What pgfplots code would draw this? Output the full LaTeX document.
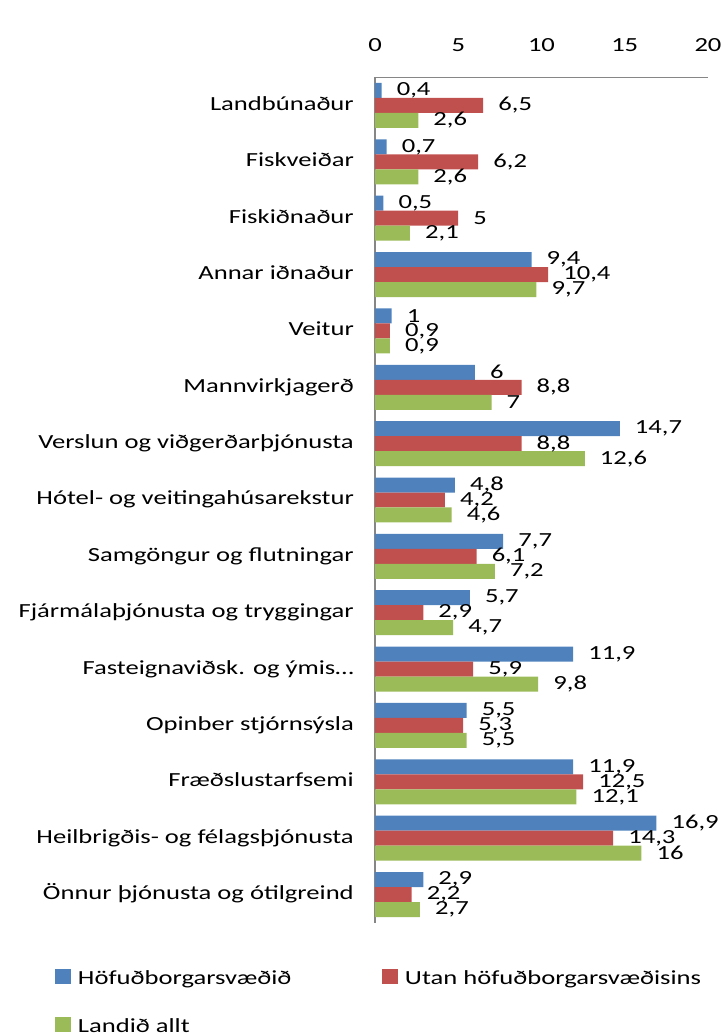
\documentclass[border=0pt]{standalone}
\usepackage{fontspec}
\setmainfont{Carlito}[FakeStretch=1.33]
\usepackage{pgfplots}
\pgfplotsset{compat=1.18}
\definecolor{cBlue}{RGB}{79,129,189}
\definecolor{cRed}{RGB}{192,80,77}
\definecolor{cGreen}{RGB}{155,187,89}
\definecolor{cAxis}{RGB}{134,134,134}

% y = 14 is the top category (Landbúnaður)
\pgfplotstableread{
y  hofud utan landid
14 0.4  6.5  2.6
13 0.7  6.2  2.6
12 0.5  5    2.1
11 9.4  10.4 9.7
10 1    0.9  0.9
9  6    8.8  7
8  14.7 8.8  12.6
7  4.8  4.2  4.6
6  7.7  6.1  7.2
5  5.7  2.9  4.7
4  11.9 5.9  9.8
3  5.5  5.3  5.5
2  11.9 12.5 12.1
1  16.9 14.3 16
0  2.9  2.2  2.7
}\data

\begin{document}
\begin{tikzpicture}[font=\fontsize{20}{24}\selectfont]
\useasboundingbox (-375pt,-111.3pt) rectangle (349pt,922.7pt);
\begin{axis}[
  at={(0pt,0pt)}, anchor=south west,
  width=333pt, height=845.4pt, scale only axis,
  xbar, bar width=0.266,
  xmin=0, xmax=20, ymin=-0.5, ymax=14.5,
  axis x line*=top, axis y line*=left,
  axis line style={cAxis, line width=1.2pt},
  xtick={0,5,10,15,20},
  ytick={0,...,14},
  yticklabels={Önnur þjónusta og ótilgreind, Heilbrigðis- og félagsþjónusta, Fræðslustarfsemi, Opinber stjórnsýsla, Fasteignaviðsk. og ýmis…, Fjármálaþjónusta og tryggingar, Samgöngur og flutningar, Hótel- og veitingahúsarekstur, Verslun og viðgerðarþjónusta, Mannvirkjagerð, Veitur, Annar iðnaður, Fiskiðnaður, Fiskveiðar, Landbúnaður},
  major tick length=0pt,
  /pgf/number format/.cd, use comma, assume math mode=true, /pgfplots/.cd,
  tick label style={font=\fontsize{20}{24}\selectfont, text=black},
  xticklabel style={anchor=base, inner sep=0pt, yshift=26pt},
  yticklabel style={anchor=base east, inner sep=0pt, xshift=-21pt, yshift=-5pt},
  nodes near coords, point meta=x,
  every node near coord/.append style={anchor=west, inner sep=0pt, xshift=15pt, font=\fontsize{20}{24}\selectfont, text=black},
  legend columns=2,
  legend cell align=left,
  legend style={draw=none, fill=none, inner sep=0pt, outer sep=0pt,
    at={(axis description cs:-0.961,-0.054)}, anchor=north west,
    column sep=5pt, row sep=29pt},
  legend image code/.code={\fill[#1, draw=none] (0pt,-6pt) rectangle (16pt,9pt);},
]
\addplot[fill=cBlue, draw=none, bar shift=0.266] table[x=hofud, y=y] {\data};
\addlegendentry{\makebox[297pt][l]{Höfuðborgarsvæðið}}
\addplot[fill=cRed, draw=none, bar shift=0] table[x=utan, y=y] {\data};
\addlegendentry{Utan höfuðborgarsvæðisins}
\addplot[fill=cGreen, draw=none, bar shift=-0.266] table[x=landid, y=y] {\data};
\addlegendentry{\makebox[297pt][l]{Landið allt}}
\end{axis}
\end{tikzpicture}
\end{document}
